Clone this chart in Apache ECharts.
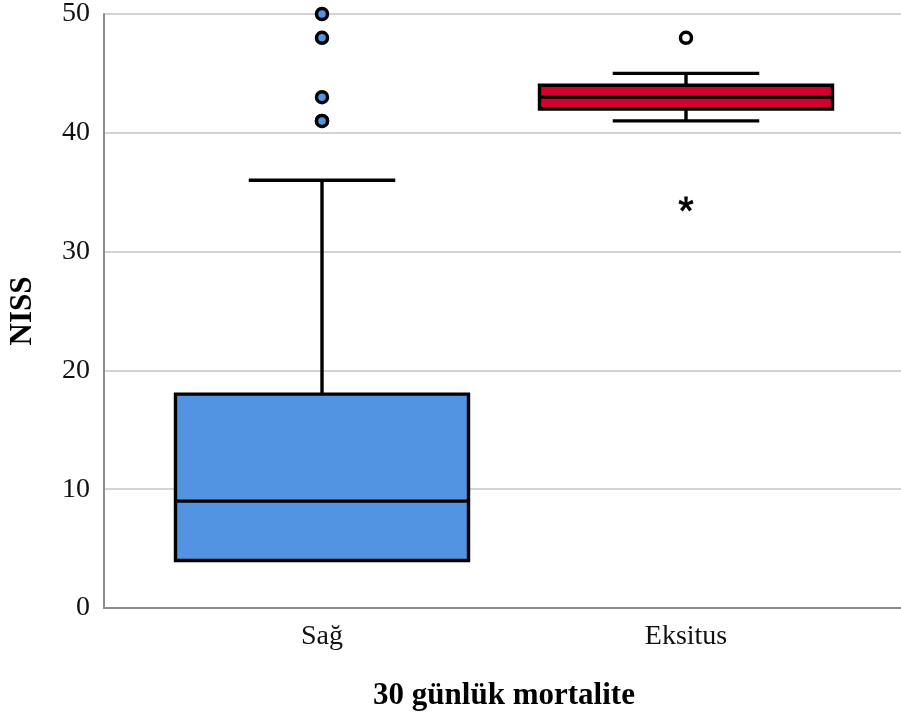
<!DOCTYPE html>
<html><head><meta charset="utf-8">
<script src="https://cdn.jsdelivr.net/npm/echarts@6/dist/echarts.min.js"></script>
<style>html,body{margin:0;padding:0;background:#fff}#c{width:901px;height:718px}</style>
</head><body><div id="c"></div>
<script>
const categories = ['Sağ', 'Eksitus'];
const whiskerLow = [4, 41];
const q1 = [4, 42];
const median = [9, 43];
const q3 = [18, 44];
const whiskerHigh = [36, 45];
const outlierCat = [0, 0, 0, 0, 0, 1];
const outlierVal = [41, 41, 43, 48, 50, 48];
const extremeCat = [1];
const extremeVal = [34];
const yTicks = [0, 10, 20, 30, 40, 50];

const boxColors = ['#5294e2', '#d2002e'];
const outlierFill = ['#5294e2', '#ffffff'];
const FONT = 'Liberation Serif';

const boxData = categories.map((c, i) => [i, whiskerLow[i], q1[i], median[i], q3[i], whiskerHigh[i]]);
const outData = outlierCat.map((c, i) => ({ value: [c, outlierVal[i]], itemStyle: { color: outlierFill[c] } }));
const extData = extremeCat.map((c, i) => [c, extremeVal[i]]);

const chart = echarts.init(document.getElementById('c'), null, { renderer: 'canvas' });
chart.setOption({
  backgroundColor: '#fff',
  animation: false,
  grid: [
    { left: 104, right: 0, top: 14, bottom: 110, containLabel: false, outerBoundsMode: 'none' },
    { left: 140, right: 33, top: 14, bottom: 110, containLabel: false, outerBoundsMode: 'none' }
  ],
  xAxis: [
    { gridIndex: 0, type: 'category', data: ['a'], axisLine: { lineStyle: { color: '#8c8c8c', width: 2 } }, axisTick: { show: false }, axisLabel: { show: false } },
    { gridIndex: 1, type: 'category', data: categories, axisLine: { show: false }, axisTick: { show: false },
      axisLabel: { fontFamily: FONT, fontSize: 28, color: '#111', margin: 15 },
      name: '30 günlük mortalite', nameLocation: 'middle', nameGap: 72,
      nameTextStyle: { fontFamily: FONT, fontSize: 31, fontWeight: 'bold', color: '#000' } }
  ],
  yAxis: [
    { gridIndex: 0, type: 'value', min: 0, max: 50, interval: 10,
      axisLine: { show: true, lineStyle: { color: '#8c8c8c', width: 2 } }, axisTick: { show: false },
      splitLine: { lineStyle: { color: '#d4d4d4', width: 2 } },
      axisLabel: { fontFamily: FONT, fontSize: 28, color: '#111', margin: 14, formatter: v => yTicks.includes(v) ? String(v) : '' },
      name: 'NISS', nameLocation: 'middle', nameGap: 66, nameRotate: 90,
      nameTextStyle: { fontFamily: FONT, fontSize: 31, fontWeight: 'bold', color: '#000' } },
    { gridIndex: 1, type: 'value', min: 0, max: 50, show: false }
  ],
  series: [
    {
      type: 'custom', xAxisIndex: 1, yAxisIndex: 1, data: boxData,
      encode: { x: 0, y: [1, 2, 3, 4, 5] },
      renderItem: function (params, api) {
        const idx = api.value(0);
        const cx = api.coord([idx, 0])[0];
        const band = api.size([1, 0])[0];
        const bw = band * 0.805;
        const cap = bw * 0.5;
        const y = k => api.coord([idx, api.value(k)])[1];
        const yMin = y(1), yQ1 = y(2), yMed = y(3), yQ3 = y(4), yMax = y(5);
        const ls = { stroke: '#000', lineWidth: 3.4 };
        const ch = [];
        if (yMax < yQ3 - 0.5) {
          ch.push({ type: 'line', shape: { x1: cx, y1: yMax, x2: cx, y2: yQ3 }, style: ls });
          ch.push({ type: 'line', shape: { x1: cx - cap / 2, y1: yMax, x2: cx + cap / 2, y2: yMax }, style: ls });
        }
        if (yMin > yQ1 + 0.5) {
          ch.push({ type: 'line', shape: { x1: cx, y1: yQ1, x2: cx, y2: yMin }, style: ls });
          ch.push({ type: 'line', shape: { x1: cx - cap / 2, y1: yMin, x2: cx + cap / 2, y2: yMin }, style: ls });
        }
        ch.push({ type: 'rect', shape: { x: cx - bw / 2, y: yQ3, width: bw, height: yQ1 - yQ3 },
          style: { fill: boxColors[idx], stroke: '#000', lineWidth: 3.4 } });
        ch.push({ type: 'line', shape: { x1: cx - bw / 2, y1: yMed, x2: cx + bw / 2, y2: yMed }, style: ls });
        return { type: 'group', children: ch };
      }
    },
    {
      type: 'scatter', xAxisIndex: 1, yAxisIndex: 1, data: outData,
      symbol: 'circle', symbolSize: 11,
      itemStyle: { borderColor: '#000', borderWidth: 3.5, opacity: 1 }
    },
    {
      type: 'scatter', xAxisIndex: 1, yAxisIndex: 1, data: extData,
      symbol: 'path://M-1.6,-7 L1.6,-7 L1.3,-2.2 L5.8,-4.2 L6.8,-1.2 L2.2,0.2 L5.4,3.9 L2.9,5.8 L0,1.8 L-2.9,5.8 L-5.4,3.9 L-2.2,0.2 L-6.8,-1.2 L-5.8,-4.2 L-1.3,-2.2 Z',
      symbolSize: 15,
      itemStyle: { color: '#000', opacity: 1 }
    }
  ]
});
</script></body></html>
